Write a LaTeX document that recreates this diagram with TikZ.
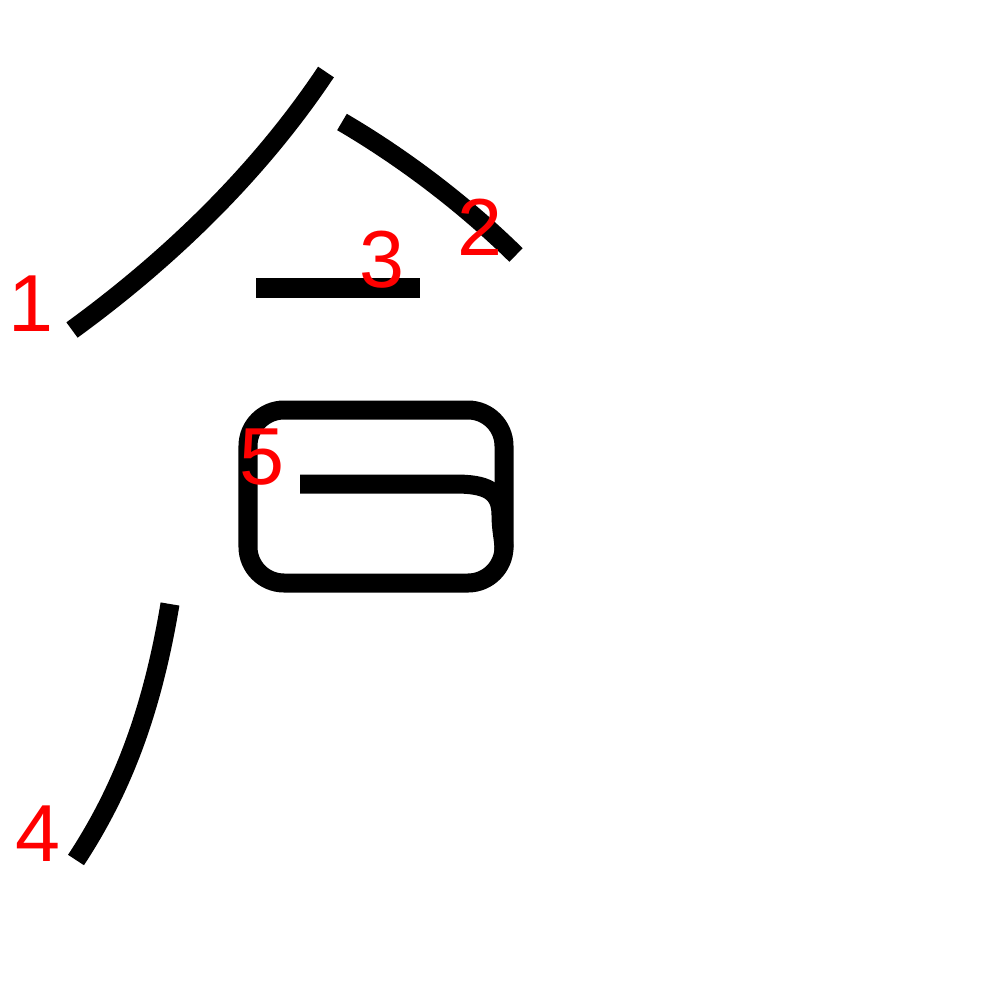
\documentclass[tikz,border=0pt]{standalone}
\usepackage{fontspec}
\setmainfont{Liberation Sans}
\begin{document}
\begin{tikzpicture}[x=0.01cm,y=-0.01cm,
  strokeline/.style={draw=black,line width=0.19cm,line cap=butt},
  numlabel/.style={text=red,font=\fontsize{23pt}{23pt}\selectfont,inner sep=0pt,anchor=center}]
\useasboundingbox (0,0) rectangle (1000,1000);
% stroke 1
\draw[strokeline] (326,72) .. controls (262,168) and (175,255) .. (72,330);
% stroke 2
\draw[strokeline] (342,122) .. controls (395,153) and (458,198) .. (516,255);
% stroke 3
\draw[strokeline] (256,288) -- (420,288);
% stroke 4
\draw[strokeline] (170,604) .. controls (152,712) and (122,790) .. (76,860);
% stroke 5 (box)
\draw[strokeline,rounded corners=0.36cm] (248,410) rectangle (504,583);
\draw[strokeline] (300,484) -- (455,484) .. controls (485,484) and (501,490) .. (501,515) .. controls (501,530) and (504,540) .. (504,550);
% labels
\node[numlabel] (n1) at (31,304) {1};
\node[numlabel] (n2) at (480,227) {2};
\node[numlabel] (n3) at (382,260) {3};
\node[numlabel] (n4) at (38,834) {4};
\node[numlabel] (n5) at (262,457) {5};
\end{tikzpicture}
\end{document}
